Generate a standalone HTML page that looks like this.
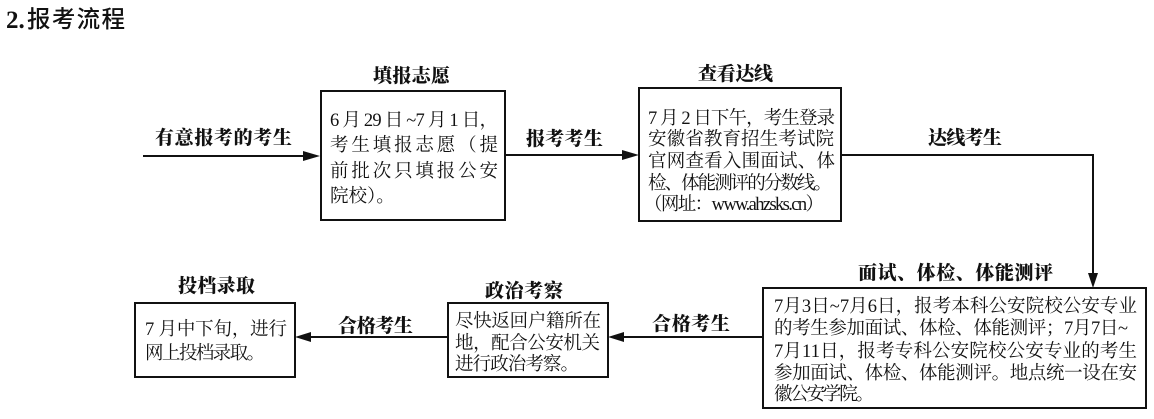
<!DOCTYPE html>
<html><head><meta charset="utf-8"><style>
html,body{margin:0;padding:0;background:#fff;}
svg{display:block;}
.b{font-family:"Liberation Serif","Noto Serif CJK SC",serif;font-size:18.5px;fill:#111;}
.l{font-family:"Liberation Serif","Noto Serif CJK SC",serif;font-size:19px;font-weight:900;fill:#111;}
</style></head><body>
<svg width="1154" height="419" viewBox="0 0 1154 419" xmlns="http://www.w3.org/2000/svg">
<rect width="1154" height="419" fill="#fff"/>
<!-- header -->
<text x="6" y="28" font-family="Liberation Serif, serif" font-weight="bold" font-size="25" fill="#111">2.</text>
<text x="27" y="27" font-family="Noto Sans CJK SC, sans-serif" font-weight="500" font-size="23.5" fill="#111" textLength="98" lengthAdjust="spacing">报考流程</text>

<g stroke="#111" stroke-width="2" fill="none">
  <rect x="321" y="91" width="184" height="129"/>
  <rect x="639" y="88" width="202" height="133"/>
  <rect x="763" y="288" width="383" height="120"/>
  <rect x="135" y="303" width="160" height="74"/>
  <rect x="448" y="303" width="160" height="74"/>
  <line x1="143" y1="156" x2="306" y2="156"/>
  <line x1="505" y1="155" x2="624" y2="155"/>
  <polyline points="841,155 1093,155 1093,274"/>
  <line x1="763" y1="337" x2="622" y2="337"/>
  <line x1="448" y1="337" x2="309" y2="337"/>
</g>
<g fill="#111">
  <polygon points="303,151 320,156 303,161"/>
  <polygon points="622,150 639,155 622,160"/>
  <polygon points="1088,273 1093,288 1098,273"/>
  <polygon points="624,332 608,337 624,342"/>
  <polygon points="311,332 295,337 311,342"/>
</g>

<!-- labels -->
<text class="l" x="155" y="144" textLength="137" lengthAdjust="spacing">有意报考的考生</text>
<text class="l" x="373" y="82" textLength="77" lengthAdjust="spacing">填报志愿</text>
<text class="l" x="526" y="145" textLength="77" lengthAdjust="spacing">报考考生</text>
<text class="l" x="698" y="80" textLength="75" lengthAdjust="spacing">查看达线</text>
<text class="l" x="928" y="144" textLength="74" lengthAdjust="spacing">达线考生</text>
<text class="l" x="858" y="279" textLength="195" lengthAdjust="spacing">面试、体检、体能测评</text>
<text class="l" x="178" y="292" textLength="77" lengthAdjust="spacing">投档录取</text>
<text class="l" x="338" y="332" textLength="75" lengthAdjust="spacing">合格考生</text>
<text class="l" x="485" y="297" textLength="78" lengthAdjust="spacing">政治考察</text>
<text class="l" x="652" y="330" textLength="78" lengthAdjust="spacing">合格考生</text>

<!-- box 1 -->
<text class="b" x="330" y="126" textLength="168" lengthAdjust="spacing">6 月 29 日 ~7 月 1 日，</text>
<text class="b" x="330" y="151" textLength="168" lengthAdjust="spacing">考生填报志愿（提</text>
<text class="b" x="330" y="177" textLength="168" lengthAdjust="spacing">前批次只填报公安</text>
<text class="b" x="330" y="202">院校）。</text>

<!-- box 2 -->
<text class="b" x="648" y="124" textLength="187" lengthAdjust="spacing">7 月 2 日下午，考生登录</text>
<text class="b" x="648" y="145" textLength="186" lengthAdjust="spacing">安徽省教育招生考试院</text>
<text class="b" x="648" y="167" textLength="187" lengthAdjust="spacing">官网查看入围面试、体</text>
<text class="b" x="648" y="189" textLength="184" lengthAdjust="spacing">检、体能测评的分数线。</text>
<text class="b" x="644" y="210" textLength="180" lengthAdjust="spacing">（网址：www.ahzsks.cn）</text>

<!-- box 3 -->
<text class="b" x="774" y="312" textLength="363" lengthAdjust="spacing">7月3日~7月6日，报考本科公安院校公安专业</text>
<text class="b" x="774" y="334" textLength="354" lengthAdjust="spacing">的考生参加面试、体检、体能测评；7月7日~</text>
<text class="b" x="774" y="357" textLength="363" lengthAdjust="spacing">7月11日，报考专科公安院校公安专业的考生</text>
<text class="b" x="774" y="379" textLength="363" lengthAdjust="spacing">参加面试、体检、体能测评。地点统一设在安</text>
<text class="b" x="774" y="400" textLength="100" lengthAdjust="spacing">徽公安学院。</text>

<!-- box 4 -->
<text class="b" x="145" y="335" textLength="142" lengthAdjust="spacing">7 月中下旬，进行</text>
<text class="b" x="145" y="359" textLength="120" lengthAdjust="spacing">网上投档录取。</text>

<!-- box 5 -->
<text class="b" x="455" y="327" textLength="146" lengthAdjust="spacing">尽快返回户籍所在</text>
<text class="b" x="455" y="349" textLength="145" lengthAdjust="spacing">地，配合公安机关</text>
<text class="b" x="455" y="370" textLength="124" lengthAdjust="spacing">进行政治考察。</text>
</svg>
</body></html>
